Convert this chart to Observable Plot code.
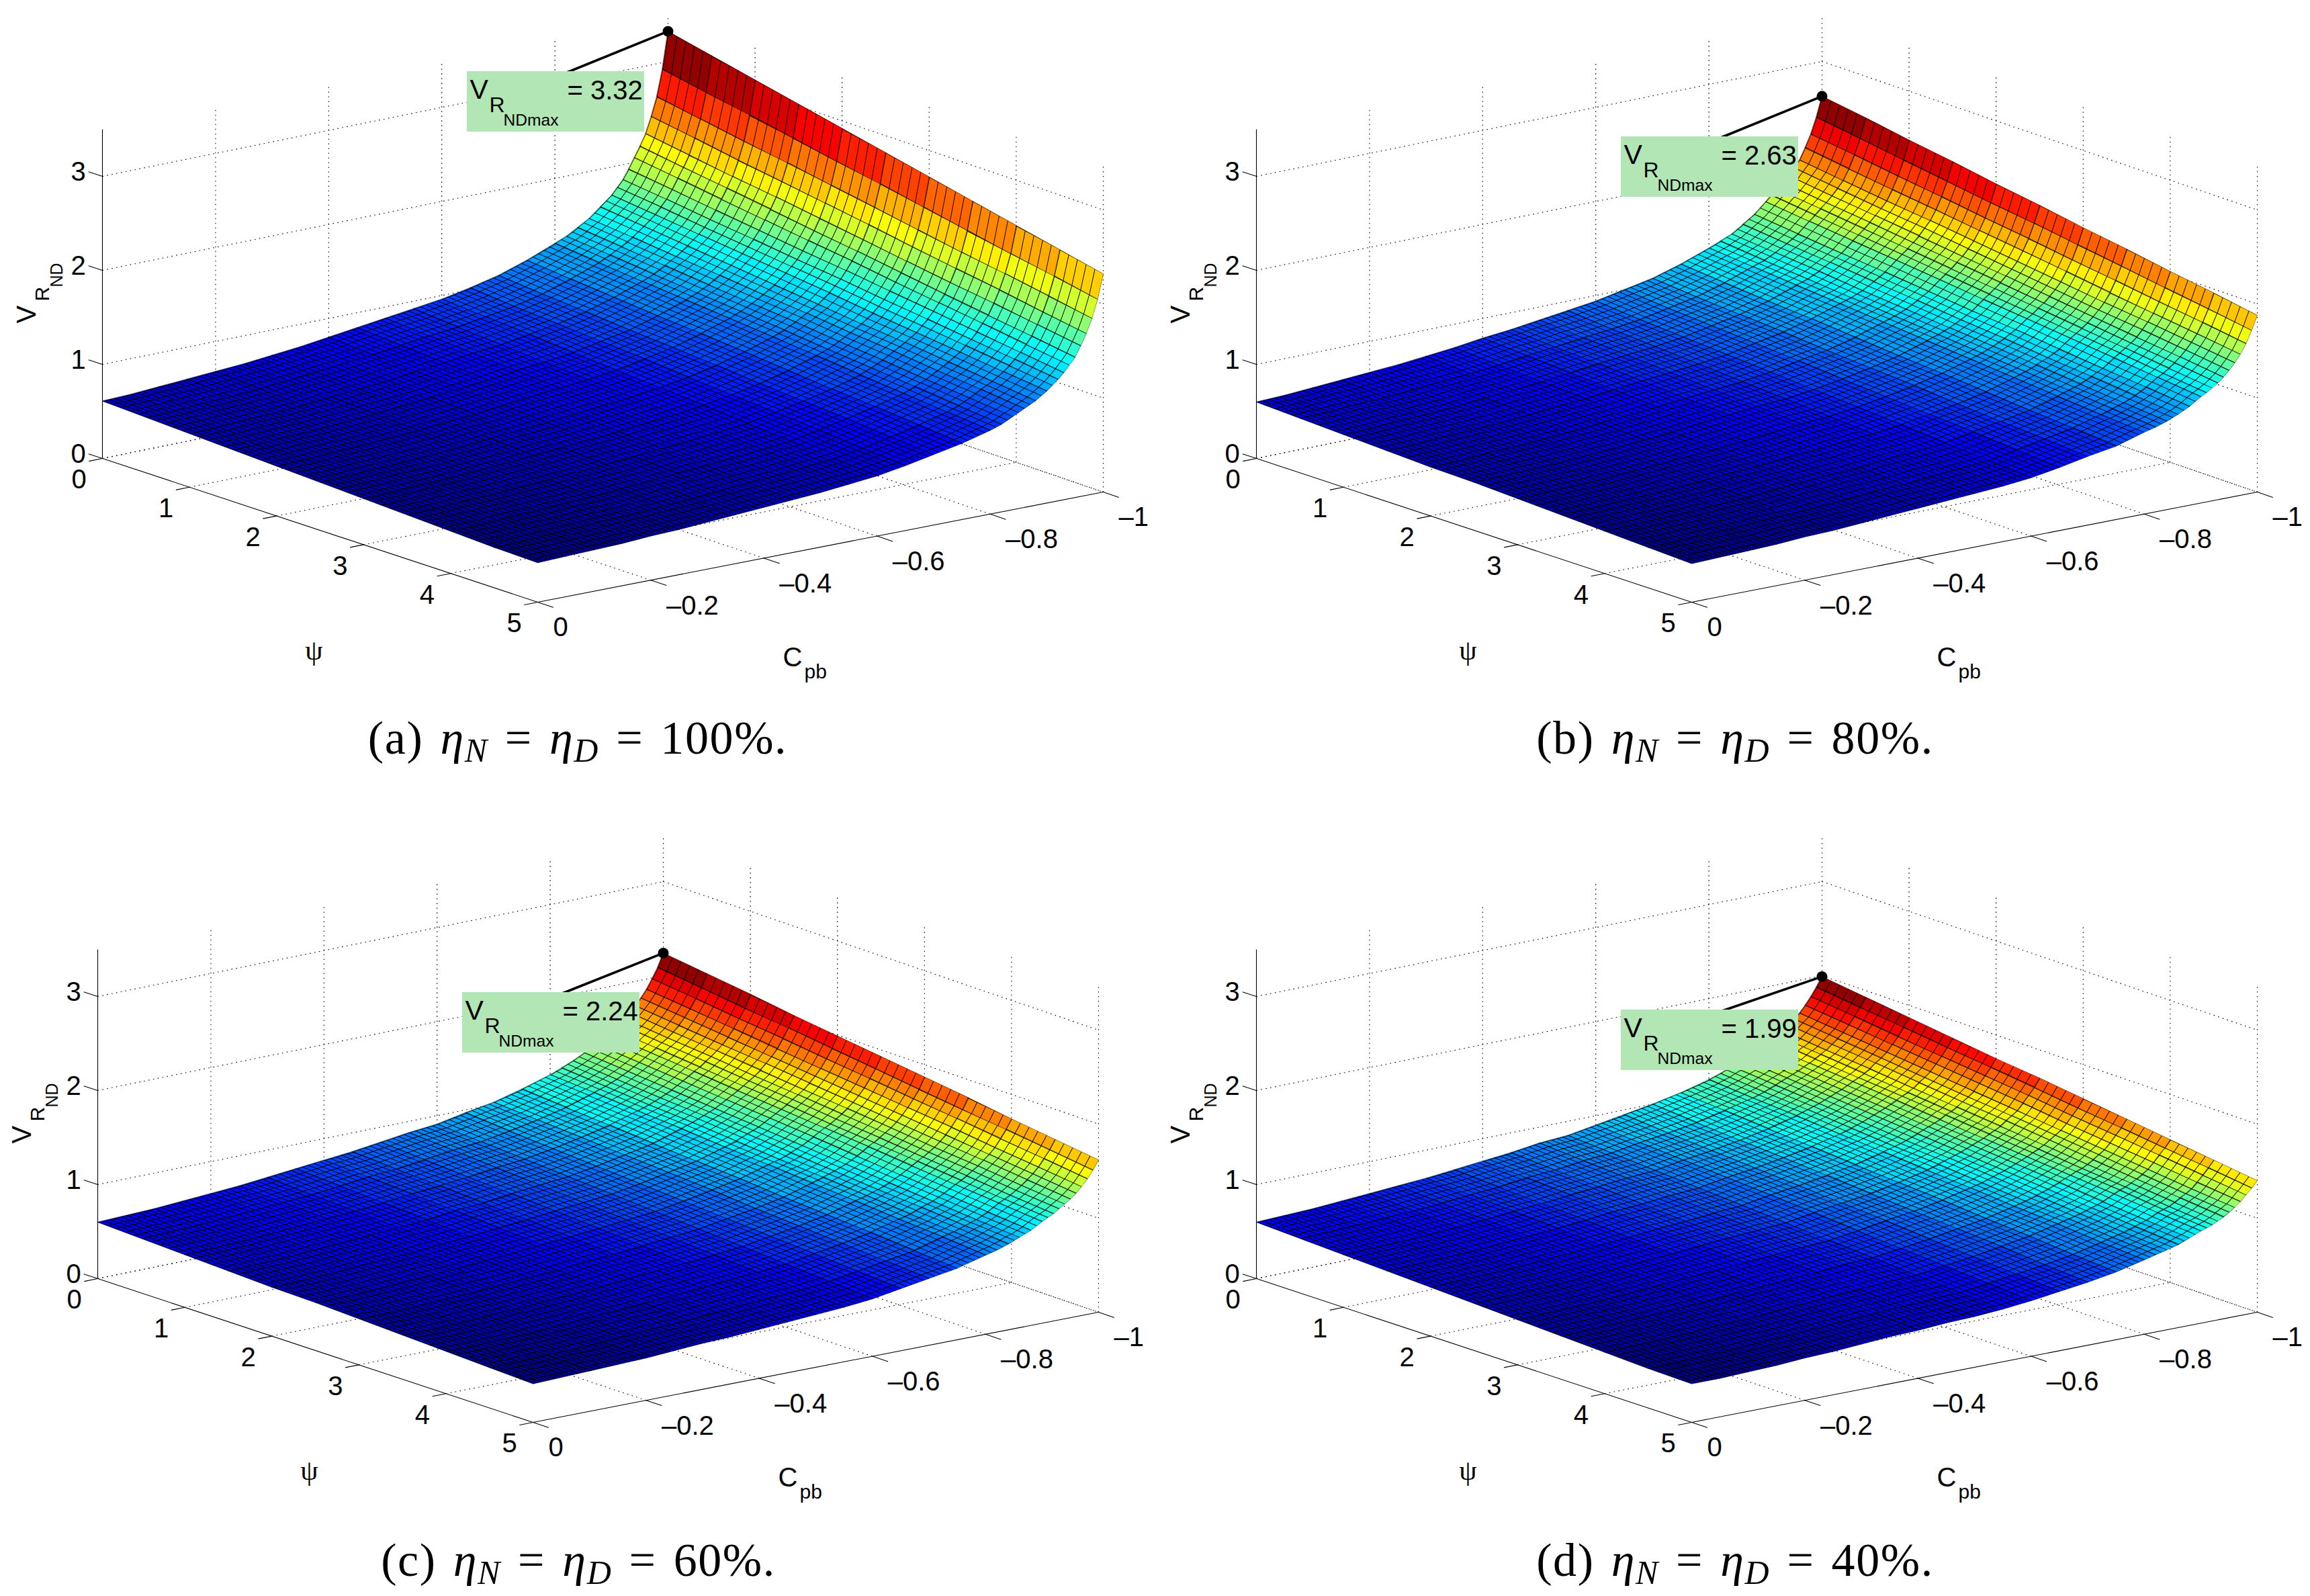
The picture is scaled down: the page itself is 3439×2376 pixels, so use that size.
<!DOCTYPE html>
<html><head><meta charset="utf-8">
<script src="https://cdn.jsdelivr.net/npm/d3@7"></script>
<script src="https://cdn.jsdelivr.net/npm/@observablehq/plot@0.6"></script>
<style>
html,body{margin:0;padding:0;background:#fff;overflow:hidden}
#page{position:relative;width:3439px;height:2376px;overflow:hidden}
.panel{position:absolute}
.cap{position:absolute;transform:translateX(-50%);white-space:nowrap;font-family:"Liberation Serif";font-size:70px;line-height:80px;letter-spacing:1.6px;word-spacing:6px;color:#000}
.cap i{font-style:italic}.cap sub{font-size:50px;font-style:italic;vertical-align:-12px;line-height:0}
</style></head><body><div id="page"></div>
<script>
// Values. Columns: psi. Rows: Cpb.
const psiCols=[0,.5,1,1.5,2,2.5,3,3.5,4,4.5,5];
const cpbRows=[0,-.05,-.1,-.15,-.2,-.25,-.3,-.35,-.4,-.45,-.5,-.55,-.6,-.65,-.7,-.75,-.8,-.82,-.84,-.86,-.88,-.9,-.91,-.92,-.93,-.94,-.95,-.96,-.97,-.98,-.99,-1];
const psiTicks=[0,1,2,3,4,5];
const cpbTicks=[0,-.2,-.4,-.6,-.8,-1];
const zTicks=[0,1,2,3];
const zTop=3.5;
const surfaceA=[
[.61,.59,.57,.55,.53,.51,.49,.47,.45,.43,.42],
[.62,.60,.58,.56,.54,.52,.50,.48,.46,.44,.43],
[.64,.62,.60,.58,.56,.54,.52,.50,.48,.46,.44],
[.66,.63,.61,.59,.57,.55,.53,.51,.49,.47,.45],
[.68,.65,.63,.61,.59,.57,.55,.53,.51,.49,.47],
[.70,.68,.66,.63,.61,.59,.57,.55,.52,.50,.48],
[.73,.71,.68,.66,.64,.62,.59,.57,.55,.52,.50],
[.76,.74,.71,.69,.66,.64,.62,.59,.57,.54,.52],
[.80,.77,.75,.72,.70,.67,.64,.62,.59,.57,.54],
[.84,.81,.78,.75,.73,.70,.67,.64,.62,.59,.56],
[.88,.85,.82,.79,.76,.73,.70,.67,.64,.61,.58],
[.92,.88,.85,.82,.79,.76,.73,.70,.67,.64,.61],
[.96,.93,.90,.86,.83,.80,.77,.73,.70,.67,.64],
[1.02,.98,.95,.92,.89,.85,.82,.79,.76,.72,.69],
[1.09,1.05,1.02,.98,.95,.92,.88,.85,.82,.78,.75],
[1.19,1.15,1.11,1.07,1.04,1.00,.96,.92,.89,.85,.81],
[1.31,1.26,1.22,1.18,1.14,1.10,1.06,1.01,.97,.93,.89],
[1.36,1.32,1.27,1.23,1.19,1.15,1.10,1.06,1.02,.97,.93],
[1.43,1.38,1.34,1.29,1.25,1.21,1.16,1.12,1.07,1.03,.99],
[1.50,1.46,1.41,1.37,1.32,1.28,1.23,1.19,1.14,1.10,1.05],
[1.60,1.55,1.50,1.45,1.40,1.35,1.30,1.26,1.21,1.16,1.11],
[1.70,1.65,1.60,1.55,1.50,1.45,1.39,1.34,1.29,1.24,1.19],
[1.77,1.72,1.66,1.61,1.56,1.51,1.45,1.40,1.35,1.29,1.24],
[1.84,1.79,1.73,1.68,1.62,1.57,1.51,1.46,1.40,1.35,1.29],
[1.94,1.88,1.82,1.76,1.70,1.65,1.59,1.53,1.47,1.41,1.35],
[2.05,1.99,1.92,1.86,1.80,1.74,1.67,1.61,1.55,1.48,1.42],
[2.16,2.09,2.03,1.96,1.89,1.83,1.76,1.69,1.62,1.56,1.49],
[2.28,2.21,2.14,2.08,2.01,1.94,1.87,1.80,1.74,1.67,1.60],
[2.45,2.38,2.30,2.23,2.16,2.09,2.01,1.94,1.87,1.79,1.72],
[2.65,2.57,2.49,2.42,2.34,2.26,2.18,2.10,2.03,1.95,1.87],
[2.93,2.84,2.76,2.67,2.58,2.50,2.41,2.32,2.23,2.15,2.06],
[3.32,3.22,3.12,3.02,2.92,2.82,2.72,2.62,2.52,2.42,2.32]];
const surfaceB=[
[.60,.58,.56,.54,.52,.51,.49,.47,.45,.43,.41],
[.61,.59,.57,.55,.53,.52,.50,.48,.46,.44,.42],
[.63,.61,.59,.57,.55,.53,.51,.49,.47,.45,.43],
[.65,.62,.60,.58,.56,.54,.52,.50,.48,.46,.44],
[.67,.64,.62,.60,.58,.56,.54,.52,.50,.48,.46],
[.69,.67,.65,.62,.60,.58,.56,.54,.51,.49,.47],
[.72,.69,.67,.65,.63,.60,.58,.56,.54,.51,.49],
[.75,.72,.70,.67,.65,.63,.60,.58,.56,.53,.51],
[.79,.76,.73,.71,.68,.66,.63,.61,.58,.56,.53],
[.82,.79,.77,.74,.71,.69,.66,.63,.60,.57,.55],
[.86,.83,.80,.77,.74,.72,.69,.66,.63,.60,.57],
[.90,.86,.83,.80,.77,.74,.71,.68,.65,.62,.59],
[.94,.90,.87,.84,.81,.78,.75,.72,.68,.65,.62],
[1.00,.96,.93,.90,.87,.83,.80,.77,.74,.70,.67],
[1.06,1.02,.99,.96,.92,.89,.86,.82,.79,.76,.73],
[1.15,1.11,1.07,1.04,1.00,.96,.93,.89,.85,.82,.78],
[1.26,1.22,1.18,1.14,1.10,1.06,1.02,.98,.94,.90,.87],
[1.31,1.26,1.22,1.18,1.14,1.10,1.06,1.02,.98,.94,.90],
[1.36,1.32,1.28,1.23,1.19,1.15,1.11,1.07,1.02,.98,.94],
[1.44,1.39,1.35,1.30,1.26,1.21,1.17,1.12,1.08,1.03,.99],
[1.52,1.47,1.42,1.38,1.33,1.28,1.24,1.19,1.14,1.10,1.05],
[1.63,1.58,1.53,1.48,1.43,1.38,1.33,1.28,1.23,1.18,1.13],
[1.69,1.63,1.58,1.53,1.48,1.42,1.37,1.32,1.27,1.21,1.16],
[1.74,1.69,1.63,1.58,1.52,1.47,1.42,1.36,1.31,1.25,1.20],
[1.80,1.74,1.69,1.63,1.58,1.52,1.46,1.41,1.35,1.30,1.24],
[1.86,1.80,1.75,1.69,1.63,1.58,1.52,1.46,1.40,1.35,1.29],
[1.93,1.87,1.81,1.76,1.70,1.64,1.58,1.52,1.47,1.41,1.35],
[2.00,1.94,1.88,1.83,1.77,1.71,1.65,1.59,1.54,1.48,1.42],
[2.12,2.05,1.99,1.93,1.87,1.81,1.75,1.68,1.62,1.56,1.50],
[2.25,2.19,2.12,2.06,1.99,1.93,1.86,1.80,1.73,1.67,1.60],
[2.42,2.35,2.28,2.21,2.14,2.08,2.01,1.94,1.87,1.80,1.73],
[2.63,2.56,2.48,2.41,2.33,2.26,2.18,2.11,2.03,1.96,1.88]];
const surfaceC=[
[.60,.58,.56,.54,.52,.51,.49,.47,.45,.43,.41],
[.61,.59,.57,.55,.53,.51,.49,.47,.45,.43,.42],
[.62,.60,.58,.56,.54,.52,.50,.48,.46,.45,.43],
[.64,.62,.60,.58,.56,.54,.52,.50,.47,.45,.44],
[.66,.64,.62,.60,.58,.56,.53,.51,.49,.47,.45],
[.68,.66,.64,.62,.59,.57,.55,.53,.51,.49,.47],
[.71,.68,.66,.64,.62,.60,.57,.55,.53,.51,.49],
[.74,.71,.69,.66,.64,.62,.59,.57,.55,.52,.50],
[.77,.75,.72,.70,.67,.65,.62,.60,.57,.55,.52],
[.80,.77,.75,.72,.70,.67,.64,.62,.59,.57,.54],
[.84,.81,.78,.76,.73,.70,.67,.64,.62,.59,.56],
[.88,.85,.82,.79,.76,.73,.70,.67,.64,.61,.58],
[.91,.88,.85,.82,.79,.76,.73,.70,.67,.64,.61],
[.97,.93,.90,.87,.84,.81,.78,.75,.72,.69,.66],
[1.02,.99,.96,.93,.90,.87,.83,.80,.77,.74,.71],
[1.10,1.06,1.03,.99,.96,.93,.89,.86,.83,.79,.76],
[1.19,1.16,1.12,1.09,1.05,1.02,.98,.95,.91,.88,.84],
[1.24,1.20,1.16,1.13,1.09,1.05,1.02,.98,.94,.91,.87],
[1.29,1.25,1.21,1.18,1.14,1.10,1.06,1.02,.99,.95,.91],
[1.35,1.31,1.27,1.23,1.19,1.15,1.11,1.07,1.03,.99,.96],
[1.42,1.38,1.34,1.30,1.26,1.22,1.17,1.13,1.09,1.05,1.01],
[1.50,1.46,1.42,1.37,1.33,1.29,1.25,1.20,1.16,1.12,1.08],
[1.54,1.50,1.45,1.41,1.37,1.32,1.28,1.24,1.19,1.15,1.11],
[1.59,1.54,1.50,1.45,1.41,1.36,1.32,1.27,1.23,1.18,1.14],
[1.63,1.58,1.54,1.49,1.45,1.40,1.36,1.31,1.27,1.22,1.18],
[1.68,1.63,1.59,1.54,1.49,1.45,1.40,1.35,1.31,1.26,1.22],
[1.74,1.69,1.64,1.60,1.55,1.50,1.45,1.40,1.36,1.31,1.26],
[1.81,1.76,1.71,1.66,1.61,1.56,1.51,1.46,1.41,1.36,1.31],
[1.89,1.84,1.79,1.73,1.68,1.63,1.58,1.53,1.47,1.42,1.37],
[1.99,1.94,1.88,1.83,1.77,1.72,1.66,1.61,1.55,1.50,1.44],
[2.10,2.04,1.98,1.93,1.87,1.81,1.75,1.69,1.64,1.58,1.52],
[2.24,2.18,2.12,2.05,1.99,1.93,1.87,1.81,1.74,1.68,1.62]];
const surfaceD=[
[.60,.58,.56,.54,.52,.50,.48,.46,.44,.42,.41],
[.61,.59,.57,.55,.53,.51,.49,.47,.45,.43,.41],
[.62,.60,.58,.56,.54,.52,.50,.48,.46,.44,.42],
[.64,.62,.59,.57,.55,.53,.51,.49,.47,.45,.43],
[.66,.63,.61,.59,.57,.55,.53,.51,.49,.47,.45],
[.68,.65,.63,.61,.59,.57,.55,.52,.50,.48,.46],
[.70,.68,.66,.63,.61,.59,.57,.55,.52,.50,.48],
[.73,.70,.68,.66,.63,.61,.59,.56,.54,.52,.50],
[.76,.74,.71,.69,.66,.64,.61,.59,.56,.54,.51],
[.79,.76,.74,.71,.68,.66,.63,.60,.58,.55,.53],
[.83,.80,.77,.74,.71,.68,.65,.63,.60,.57,.54],
[.85,.82,.79,.76,.73,.70,.67,.64,.61,.58,.56],
[.90,.87,.84,.81,.78,.75,.71,.68,.65,.62,.59],
[.95,.91,.88,.85,.82,.79,.76,.72,.69,.66,.63],
[1.00,.96,.93,.90,.87,.83,.80,.77,.74,.70,.67],
[1.06,1.03,.99,.96,.92,.89,.86,.82,.79,.75,.72],
[1.14,1.10,1.07,1.03,1.00,.96,.93,.89,.86,.82,.79],
[1.18,1.14,1.11,1.07,1.03,1.00,.96,.92,.89,.85,.82],
[1.23,1.19,1.15,1.11,1.07,1.04,1.00,.96,.92,.88,.85],
[1.28,1.24,1.20,1.16,1.12,1.08,1.04,1.00,.96,.92,.88],
[1.33,1.29,1.25,1.21,1.17,1.13,1.09,1.05,1.00,.96,.93],
[1.39,1.35,1.31,1.27,1.22,1.18,1.14,1.10,1.06,1.02,.98],
[1.43,1.38,1.34,1.30,1.26,1.21,1.17,1.13,1.09,1.04,1.00],
[1.46,1.42,1.37,1.33,1.28,1.24,1.20,1.15,1.11,1.06,1.02],
[1.50,1.45,1.41,1.36,1.32,1.27,1.23,1.18,1.14,1.09,1.05],
[1.55,1.50,1.46,1.41,1.36,1.32,1.27,1.22,1.17,1.13,1.08],
[1.60,1.55,1.50,1.45,1.40,1.36,1.31,1.26,1.21,1.16,1.12],
[1.65,1.60,1.55,1.50,1.45,1.40,1.35,1.30,1.25,1.20,1.16],
[1.72,1.67,1.62,1.57,1.52,1.47,1.41,1.36,1.31,1.26,1.21],
[1.80,1.75,1.69,1.64,1.59,1.54,1.48,1.43,1.38,1.32,1.27],
[1.89,1.83,1.78,1.72,1.67,1.61,1.55,1.50,1.44,1.39,1.33],
[1.99,1.93,1.87,1.81,1.75,1.70,1.64,1.58,1.52,1.46,1.40]];
const maxima=[3.32,2.63,2.24,1.99];
const letters=["a","b","c","d"];
const efficiencies=[100,80,60,40];
const surfaces=[surfaceA,surfaceB,surfaceC,surfaceD];

// Layout and view (styling, not data)
const W=1721,H=1040;
const offsets=[[0,0],[1718,0],[-6.6,1221],[1718,1221]];
const boxTops=[106,203,256,282];
const capCentres=[[860,1103],[2583,1103],[861,2327],[2583,2327]];
const floorX=[152,800,1642,994], floorY=[682,896,732,511], zPx=140;
const meshPsi=.1, meshCpb=.01;
function project(psi,cpb,z=0){
  const u=psi/5,v=-cpb;
  const bil=c=>c[0]*(1-u)*(1-v)+c[1]*u*(1-v)+c[2]*u*v+c[3]*(1-u)*v;
  return [bil(floorX),bil(floorY)-zPx*z];
}
const jetT=[0,.125,.375,.625,.875,1];
const jetC=["#000080","#0000ff","#00ffff","#ffff00","#ff0000","#800000"];
const seg=(id,a,b)=>{const p=project(...a),q=project(...b);return {id,x1:p[0],y1:p[1],x2:q[0],y2:q[1]}};

function buildPanel(idx){
  const S=surfaces[idx];
  const zmin=d3.min(S.flat()),zmax=d3.max(S.flat());
  const faces=[];let defs="";
  for(let j=cpbRows.length-2;j>=0;j--){
    const nc=Math.round((cpbRows[j]-cpbRows[j+1])/meshCpb);
    for(let k=0;k<psiCols.length-1;k++){
      const id=`m${idx}_${j}_${k}`;
      const A=[psiCols[k],cpbRows[j],S[j][k]],B=[psiCols[k+1],cpbRows[j],S[j][k+1]],
            C=[psiCols[k+1],cpbRows[j+1],S[j+1][k+1]],D=[psiCols[k],cpbRows[j+1],S[j+1][k]];
      const zc=nc>1?(A[2]+B[2]+C[2]+D[2])/4:(C[2]+D[2])/2;
      const P=[A,B,C,D].map(p=>project(...p));
      for(const p of P) faces.push({id,x:p[0],y:p[1],zc,pat:`url(#${id})`});
      // mesh texture: lattice drawn as the fill style of one cell's face
      const ns=Math.round((psiCols[k+1]-psiCols[k])/meshPsi);
      const ax=((P[1][0]-P[0][0])+(P[2][0]-P[3][0]))/2/ns,ay=((P[1][1]-P[0][1])+(P[2][1]-P[3][1]))/2/ns;
      const bx=((P[3][0]-P[0][0])+(P[2][0]-P[1][0]))/2/nc,by=((P[3][1]-P[0][1])+(P[2][1]-P[1][1]))/2/nc;
      const cross=Math.abs(ax*by-ay*bx),w=.95;
      const tx=w*Math.hypot(bx,by)/cross,ty=w*Math.hypot(ax,ay)/cross;
      const f=v=>v.toFixed(4);
      defs+=`<pattern id="${id}" patternUnits="userSpaceOnUse" x="0" y="0" width="1" height="1" patternTransform="matrix(${f(ax)} ${f(ay)} ${f(bx)} ${f(by)} ${f(P[0][0])} ${f(P[0][1])})"><rect width="${f(tx)}" height="1" fill="#000"/><rect width="1" height="${f(ty)}" fill="#000"/></pattern>`;
    }
  }
  // grid
  const grid=[];
  psiTicks.slice(0,-1).forEach(p=>grid.push(seg(`f${p}`,[p,0],[p,-1])));
  cpbTicks.slice(1).forEach(c=>grid.push(seg(`g${c}`,[5,c],[0,c])));
  zTicks.forEach(z=>{grid.push(seg(`w${z}`,[0,0,z],[0,-1,z]));grid.push(seg(`v${z}`,[0,-1,z],[5,-1,z]));});
  cpbTicks.slice(1).forEach(c=>grid.push(seg(`a${c}`,[0,c,0],[0,c,zTop])));
  psiTicks.slice(1).forEach(p=>grid.push(seg(`b${p}`,[p,-1,0],[p,-1,zTop])));
  const axes=[seg("x",[0,0],[5,0]),seg("y",[5,0],[5,-1]),seg("z",[0,0,0],[0,0,zTop])];
  const ticks=[
    ...zTicks.map(z=>seg(`tz${z}`,[0,0,z],[-.16,0,z])),
    ...psiTicks.map(p=>seg(`tp${p}`,[p,0],[p,.024])),
    ...cpbTicks.map(c=>seg(`tc${c}`,[5,c],[5.18,c]))];
  const zLab=zTicks.map(z=>{const p=project(0,0,z);return {x:116,y:p[1]-6,t:String(z)}});
  const psiLab=psiTicks.map(v=>{const p=project(v,0);return {x:p[0]-35,y:p[1]+32,t:String(v)}});
  const cpbLab=cpbTicks.map(v=>{const p=project(5,v);return {x:p[0]+23,y:p[1]+38,t:v===0?"0":"\u2013"+Math.abs(v)}});
  const peak=project(0,-1,maxima[idx]);
  const top=boxTops[idx],left=695;
  const txt=(t,x,y,fs,extra={})=>Plot.text([{t,x,y}],{x:"x",y:"y",text:"t",fontSize:fs,fontFamily:"Liberation Sans",fill:"#000",textAnchor:"start",lineAnchor:"bottom",...extra});
  const lab=(data,anchor)=>Plot.text(data,{x:"x",y:"y",text:"t",fontSize:40,fontFamily:"Liberation Sans",fill:"#000",textAnchor:anchor,lineAnchor:"middle"});
  const lk=(d,o)=>Plot.link(d,{x1:"x1",y1:"y1",x2:"x2",y2:"y2",stroke:"#000",...o});
  const svg=Plot.plot({
    width:W,height:H,margin:0,
    style:{maxWidth:"none",overflow:"visible",background:"none"},
    x:{domain:[0,W],range:[0,W],axis:null},
    y:{domain:[0,H],range:[0,H],axis:null},
    color:{type:"linear",domain:jetT.map(t=>zmin+t*(zmax-zmin)),range:jetC},
    marks:[
      lk(grid,{strokeWidth:1.1,strokeDasharray:"1.6 5.4"}),
      lk(axes,{strokeWidth:1.1}),
      lk(ticks,{strokeWidth:1.1}),
      Plot.line(faces,{x:"x",y:"y",z:"id",fill:"zc",stroke:"zc",strokeWidth:.6,curve:"linear-closed"}),
      Plot.line(faces,{x:"x",y:"y",z:"id",fill:{value:d=>d.pat,scale:null},stroke:"#000",strokeWidth:.5,strokeOpacity:.5,curve:"linear-closed"}),
      Plot.link([{x1:peak[0],y1:peak[1],x2:832,y2:top+6}],{x1:"x1",y1:"y1",x2:"x2",y2:"y2",stroke:"#000",strokeWidth:3.6}),
      Plot.rect([{x1:left,x2:left+264,y1:top,y2:top+90}],{x1:"x1",x2:"x2",y1:"y1",y2:"y2",fill:"#b2e6b4"}),
      Plot.dot([{x:peak[0],y:peak[1]}],{x:"x",y:"y",r:8,fill:"#000"}),
      txt("V",left+4,top+40,41),
      txt("R",left+33,top+60,32),
      txt("NDmax",left+54,top+80,24.6),
      txt(`= ${maxima[idx]}`,left+149,top+41,40),
      lab(zLab,"middle"),lab(psiLab,"middle"),lab(cpbLab,"start"),
      txt("\u03c8",467,968,42,{fontFamily:"Liberation Serif",textAnchor:"middle",lineAnchor:"middle"}),
      txt("C",1165,991,40),
      txt("pb",1197,1009,30),
      txt("V",52,481,40,{rotate:-90}),
      txt("R",72,448,30,{rotate:-90}),
      txt("ND",92,427,25,{rotate:-90})
    ]
  });
  d3.select(svg).insert("defs",":first-child").html(defs);
  return svg;
}
const page=document.getElementById("page");
letters.forEach((l,i)=>{
  const d=document.createElement("div");d.className="panel";
  d.style.left=offsets[i][0]+"px";d.style.top=offsets[i][1]+"px";
  d.appendChild(buildPanel(i));page.appendChild(d);
  const c=document.createElement("div");c.className="cap";
  c.style.left=capCentres[i][0]+"px";c.style.top=(capCentres[i][1]-44)+"px";
  c.innerHTML=`(${l}) <i>\u03b7</i><sub>N</sub> = <i>\u03b7</i><sub>D</sub> = ${efficiencies[i]}%.`;
  page.appendChild(c);
});
</script></body></html>
